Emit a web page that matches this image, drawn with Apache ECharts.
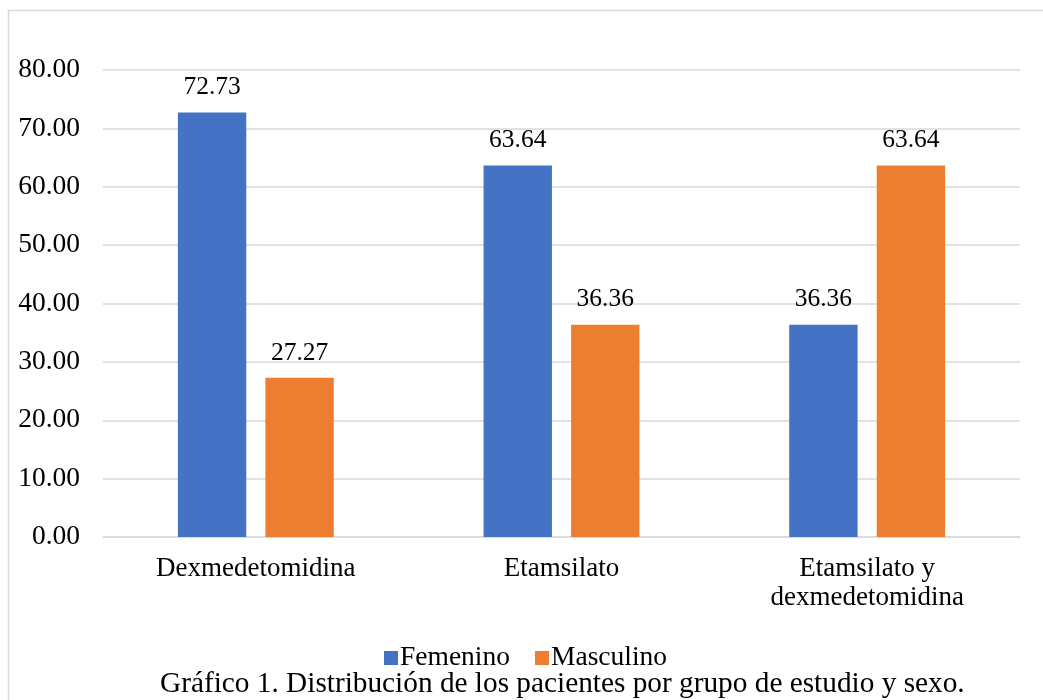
<!DOCTYPE html>
<html>
<head>
<meta charset="utf-8">
<script src="https://cdn.jsdelivr.net/npm/echarts@6/dist/echarts.min.js"></script>
<style>
  html, body { margin: 0; padding: 0; background: #fff; }
  #chart { width: 1043px; height: 700px; }
</style>
</head>
<body>
<div id="chart"></div>
<script>
// Study groups and the percentage of patients by sex in each one
const categories = ['Dexmedetomidina', 'Etamsilato', 'Etamsilato y\ndexmedetomidina'];
const femenino = [72.73, 63.64, 36.36];
const masculino = [27.27, 36.36, 63.64];
const seriesNames = ['Femenino', 'Masculino'];
const captionText = 'Gráfico 1. Distribución de los pacientes por grupo de estudio y sexo.';

const FONT = "'Liberation Serif', 'Times New Roman', serif";
const chart = echarts.init(document.getElementById('chart'));

const labelStyle = {
  show: true,
  position: 'top',
  distance: 12,
  color: '#000',
  fontFamily: FONT,
  fontSize: 25.5,
  formatter: p => p.value.toFixed(2)
};

chart.setOption({
  animation: false,
  textStyle: { fontFamily: FONT },
  graphic: [
    {
      type: 'rect',
      shape: { x: 8.5, y: 10.5, width: 1200, height: 900 },
      style: { fill: 'none', stroke: '#d9d9d9', lineWidth: 1.5 },
      silent: true
    },
    {
      type: 'text',
      left: 160,
      top: 670,
      style: { text: captionText, fontFamily: FONT, fontSize: 29.3, fill: '#000' }
    }
  ],
  legend: {
    data: seriesNames,
    top: 639,
    left: 379,
    icon: 'rect',
    itemWidth: 14,
    itemHeight: 14,
    itemGap: 25,
    textStyle: { fontFamily: FONT, fontSize: 27.5, color: '#000', padding: [0, 0, 0, -3] }
  },
  grid: { left: 103, right: 23, top: 70, bottom: 163 },
  xAxis: {
    type: 'category',
    data: categories,
    axisLine: { show: true, lineStyle: { color: '#d9d9d9', width: 1.5 } },
    axisTick: { show: false },
    axisLabel: { color: '#000', fontFamily: FONT, fontSize: 27, margin: 17, lineHeight: 29 }
  },
  yAxis: {
    type: 'value',
    min: 0,
    max: 80,
    interval: 10,
    axisLine: { show: false },
    axisTick: { show: false },
    splitLine: { lineStyle: { color: '#d9d9d9', width: 1.5 } },
    axisLabel: {
      color: '#000', fontFamily: FONT, fontSize: 27.5, margin: 23,
      formatter: v => v.toFixed(2)
    }
  },
  series: [
    {
      name: seriesNames[0],
      type: 'bar',
      data: femenino,
      itemStyle: { color: '#4472C4' },
      barGap: '28%',
      barCategoryGap: '49%',
      label: labelStyle
    },
    {
      name: seriesNames[1],
      type: 'bar',
      data: masculino,
      itemStyle: { color: '#ED7D31' },
      label: labelStyle
    }
  ]
});
</script>
</body>
</html>
